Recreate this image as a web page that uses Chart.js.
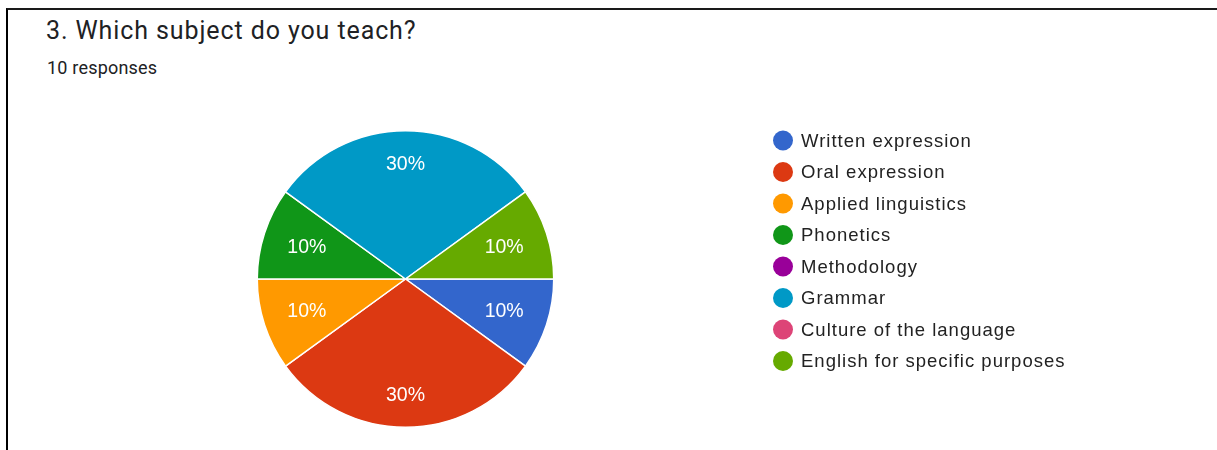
<!DOCTYPE html>
<html>
<head>
<meta charset="utf-8">
<script src="https://cdn.jsdelivr.net/npm/chart.js@4/dist/chart.umd.min.js"></script>
<style>
  html, body { margin: 0; padding: 0; background: #fff; }
  body { width: 1217px; height: 450px; position: relative; overflow: hidden; font-family: Roboto, Arial, sans-serif; }
  .moldura { position: absolute; left: 6px; top: 8px; right: 0; bottom: -10px;
             border-top: 2px solid #1a1a1a; border-left: 2px solid #000; }
  .titulo { position: absolute; left: 46px; top: 16px; font-size: 25px; letter-spacing: 0.9px; color: #202124; }
  .sub { position: absolute; left: 47px; top: 57px; font-size: 18px; letter-spacing: 0.2px; color: #202124; }
  #grafico { position: absolute; left: 0; top: 0; }
</style>
</head>
<body>
<div class="moldura"></div>
<div class="titulo">3. Which subject do you teach?</div>
<div class="sub">10 responses</div>
<canvas id="grafico" width="1217" height="450"></canvas>
<script>
/* respostas por disciplina (10 no total) */
const disciplinas = ['Written expression', 'Oral expression', 'Applied linguistics', 'Phonetics',
                     'Methodology', 'Grammar', 'Culture of the language', 'English for specific purposes'];
const respostas = [1, 3, 1, 1, 0, 3, 0, 1];
const cores = ['#3366cc', '#dc3912', '#ff9900', '#109618', '#990099', '#0099c6', '#dd4477', '#66aa00'];

const total = respostas.reduce((a, b) => a + b, 0);
const FONTE = '"Liberation Sans", Arial, sans-serif';

// rótulos de porcentagem dentro das fatias
const rotulosFatias = {
  id: 'rotulosFatias',
  afterDatasetsDraw(chart) {
    const ctx = chart.ctx;
    const meta = chart.getDatasetMeta(0);
    ctx.save();
    ctx.font = '19.5px ' + FONTE;
    ctx.fillStyle = '#fff';
    ctx.textAlign = 'center';
    ctx.textBaseline = 'middle';
    meta.data.forEach((arc, i) => {
      if (!respostas[i]) return;
      const p = arc.getProps(['x', 'y', 'startAngle', 'endAngle', 'outerRadius'], true);
      const meio = (p.startAngle + p.endAngle) / 2;
      const fr = (p.endAngle - p.startAngle) > Math.PI / 2 ? 0.78 : 0.70;
      const r = p.outerRadius * fr;
      const pct = Math.round(respostas[i] / total * 100) + '%';
      ctx.fillText(pct, p.x + Math.cos(meio) * r, p.y + Math.sin(meio) * r + 1);
    });
    ctx.restore();
  }
};

// legenda à direita, bolinha + texto
const legendaLateral = {
  id: 'legendaLateral',
  afterDraw(chart) {
    const ctx = chart.ctx;
    const x0 = 783, y0 = 140.5, passo = 31.5;
    ctx.save();
    ctx.font = '18.5px ' + FONTE;
    ctx.letterSpacing = '1px';
    ctx.textAlign = 'left';
    ctx.textBaseline = 'middle';
    disciplinas.forEach((nome, i) => {
      const y = y0 + i * passo;
      ctx.beginPath();
      ctx.arc(x0, y, 10, 0, Math.PI * 2);
      ctx.fillStyle = cores[i];
      ctx.fill();
      ctx.fillStyle = '#222';
      ctx.fillText(nome, x0 + 18, y + 1);
    });
    ctx.restore();
  }
};

new Chart(document.getElementById('grafico'), {
  type: 'pie',
  data: {
    labels: disciplinas,
    datasets: [{ data: respostas, backgroundColor: cores, borderColor: '#fff', borderWidth: 1.5 }]
  },
  options: {
    responsive: false, animation: false, rotation: 90,
    layout: { padding: { left: 256.5, top: 130, right: 662.5, bottom: 22 } },
    plugins: { legend: { display: false }, tooltip: { enabled: false } }
  },
  plugins: [rotulosFatias, legendaLateral]
});
</script>
</body>
</html>
